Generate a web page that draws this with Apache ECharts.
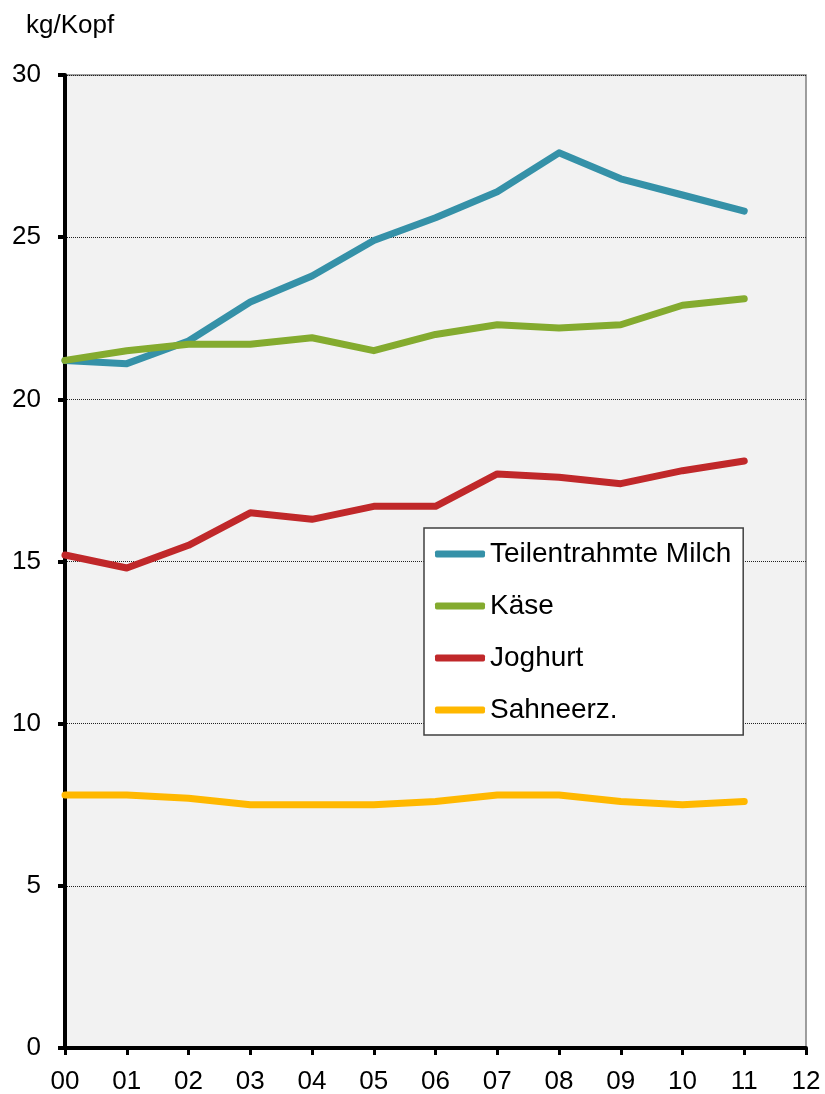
<!DOCTYPE html>
<html>
<head>
<meta charset="utf-8">
<script src="https://cdn.jsdelivr.net/npm/echarts@6/dist/echarts.min.js"></script>
<style>
  html, body { margin: 0; padding: 0; background: #fff; }
  #chart { width: 825px; height: 1094px; }
</style>
</head>
<body>
<div id="chart"></div>
<script>
var years = ['00', '01', '02', '03', '04', '05', '06', '07', '08', '09', '10', '11', '12'];
var milch = [21.2, 21.1, 21.8, 23.0, 23.8, 24.9, 25.6, 26.4, 27.6, 26.8, 26.3, 25.8];
var kaese = [21.2, 21.5, 21.7, 21.7, 21.9, 21.5, 22.0, 22.3, 22.2, 22.3, 22.9, 23.1];
var joghurt = [15.2, 14.8, 15.5, 16.5, 16.3, 16.7, 16.7, 17.7, 17.6, 17.4, 17.8, 18.1];
var sahne = [7.8, 7.8, 7.7, 7.5, 7.5, 7.5, 7.6, 7.8, 7.8, 7.6, 7.5, 7.6];

var font = 'Liberation Sans, Arial, sans-serif';

function line(name, data, color) {
    return {
        name: name,
        type: 'line',
        data: data,
        symbol: 'none',
        lineStyle: { width: 7, color: color, cap: 'round', join: 'round' },
        itemStyle: { color: color },
        animation: false
    };
}

var chart = echarts.init(document.getElementById('chart'));
chart.setOption({
    backgroundColor: '#fff',
    title: {
        text: 'kg/Kopf',
        left: 21, top: 8,
        textStyle: { fontFamily: font, fontSize: 26, fontWeight: 'normal', color: '#000' }
    },
    grid: {
        left: 65, top: 75, right: 19, bottom: 46,
        outerBoundsMode: 'none',
        containLabel: false,
        show: true,
        backgroundColor: '#f2f2f2',
        borderColor: '#808080',
        borderWidth: 1.5
    },
    legend: {
        orient: 'vertical',
        left: 424, top: 528,
        backgroundColor: '#fff',
        borderColor: '#404040',
        borderWidth: 1.5,
        borderRadius: 0,
        padding: [12, 12, 11, 11],
        itemWidth: 50,
        itemHeight: 7,
        itemGap: 24,
        icon: 'roundRect',
        textStyle: { fontFamily: font, fontSize: 28, color: '#000' },
        data: ['Teilentrahmte Milch', 'Käse', 'Joghurt', 'Sahneerz.']
    },
    xAxis: {
        type: 'category',
        data: years,
        boundaryGap: false,
        axisLine: { lineStyle: { color: '#000', width: 4 } },
        axisTick: { show: true, length: 7, lineStyle: { color: '#000', width: 3 } },
        axisLabel: { fontFamily: font, fontSize: 26, color: '#000', margin: 21 },
        splitLine: { show: false }
    },
    yAxis: {
        type: 'value',
        min: 0, max: 30, interval: 5,
        axisLine: { show: true, lineStyle: { color: '#000', width: 4 } },
        axisTick: { show: true, length: 7, lineStyle: { color: '#000', width: 4 } },
        axisLabel: { fontFamily: font, fontSize: 26, color: '#000', margin: 24 },
        splitLine: { show: true, lineStyle: { color: '#222', width: 1, type: [1, 1] } }
    },
    series: [
        line('Teilentrahmte Milch', milch, '#3591a8'),
        line('Käse', kaese, '#84ab2f'),
        line('Joghurt', joghurt, '#c0282a'),
        line('Sahneerz.', sahne, '#ffb800')
    ]
});
</script>
</body>
</html>
